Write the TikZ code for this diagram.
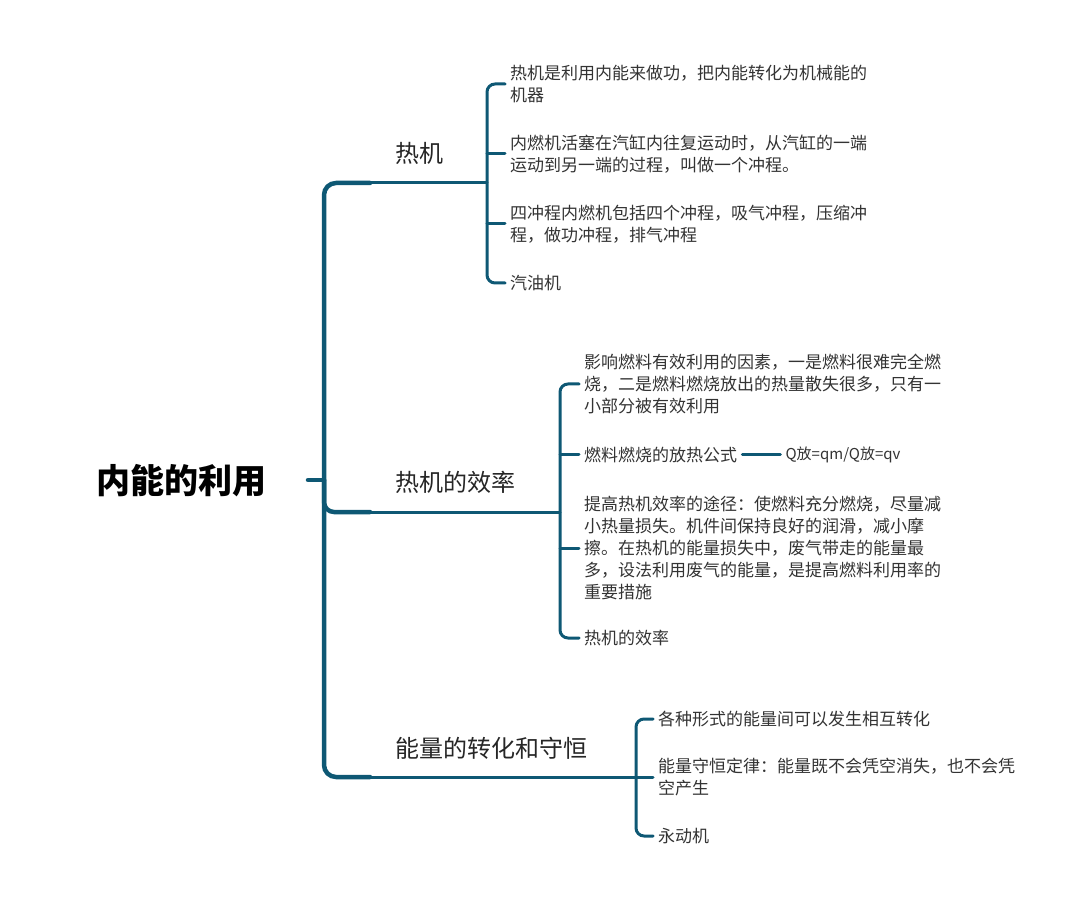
\documentclass[tikz,border=0pt]{standalone}
\usepackage{fontspec}
\newfontfamily\cjk{Noto Sans CJK SC}
\usetikzlibrary{positioning}
\definecolor{mapline}{RGB}{14,88,116}
\definecolor{leafgray}{RGB}{51,51,51}

\begin{document}
\begin{tikzpicture}[x=1pt,y=-1pt,
  root/.style={inner sep=2pt,font=\cjk\bfseries\fontsize{34}{40}\selectfont},
  topic/.style={anchor=west,inner sep=2pt,text=black!85,font=\cjk\fontsize{24}{28}\selectfont},
  leaf/.style={anchor=west,inner xsep=5pt,inner ysep=2pt,align=left,text=leafgray,font=\cjk\fontsize{17}{22}\selectfont},
  spine/.style={draw=mapline,line width=4.5pt,line cap=round},
  twig/.style={draw=mapline,line width=3pt,line cap=round}]

  \useasboundingbox (0,0) rectangle (1080,909);

  \node[root] (root) at (181,481) {内能的利用};

  \node[topic] (t1) at (393,153) {热机};
  \node[topic] (t2) at (393,482) {热机的效率};
  \node[topic] (t3) at (393,748) {能量的转化和守恒};

  \node[leaf] (l11) at (505,84) {热机是利用内能来做功，把内能转化为机械能的\\机器};
  \node[leaf] (l12) at (505,154) {内燃机活塞在汽缸内往复运动时，从汽缸的一端\\运动到另一端的过程，叫做一个冲程。};
  \node[leaf] (l13) at (505,224) {四冲程内燃机包括四个冲程，吸气冲程，压缩冲\\程，做功冲程，排气冲程};
  \node[leaf] (l14) at (505,283) {汽油机};

  \node[leaf] (l21) at (579,384) {影响燃料有效利用的因素，一是燃料很难完全燃\\烧，二是燃料燃烧放出的热量散失很多，只有一\\小部分被有效利用};
  \node[leaf] (l22) at (579,455) {燃料燃烧的放热公式};
  \node[leaf] (l23) at (579,548) {提高热机效率的途径：使燃料充分燃烧，尽量减\\小热量损失。机件间保持良好的润滑，减小摩\\擦。在热机的能量损失中，废气带走的能量最\\多，设法利用废气的能量，是提高燃料利用率的\\重要措施};
  \node[leaf] (l24) at (579,638) {热机的效率};
  \node[leaf,font=\cjk\fontsize{15}{18}\selectfont,right=38pt of l22] (f22) {Q放=qm/Q放=qv};

  \node[leaf] (l31) at (653,719) {各种形式的能量间可以发生相互转化};
  \node[leaf] (l32) at (653,777) {能量守恒定律：能量既不会凭空消失，也不会凭\\空产生};
  \node[leaf] (l33) at (653,836) {永动机};

  \coordinate (stub) at (308,480);
  \coordinate (hub) at (324,480);
  \coordinate (k1) at (370,183);
  \coordinate (k2) at (370,512);
  \coordinate (k3) at (370,777);
  \coordinate (j1) at (487,183);
  \coordinate (j2) at (560,512);
  \coordinate (j3) at (636,777);

  % main spine
  \draw[spine] (stub) -- (hub);
  \draw[spine,rounded corners=12pt] (k1) -| (hub) |- (k3);
  \draw[spine,rounded corners=10pt] (hub) |- (k2);
  \draw[twig] (k1) -- (j1);
  \draw[twig] (k2) -- (j2);
  \draw[twig] (k3) -- (j3);

  % brackets
  \draw[twig,rounded corners=8pt] (l11.west) -| (j1) |- (l14.west);
  \draw[twig] (j1 |- l12.west) -- (l12.west);
  \draw[twig] (j1 |- l13.west) -- (l13.west);

  \draw[twig,rounded corners=8pt] (l21.west) -| (j2) |- (l24.west);
  \draw[twig] (j2 |- l22.west) -- (l22.west);
  \draw[twig] (j2 |- l23.west) -- (l23.west);
  \draw[twig] (l22) -- (f22);

  \draw[twig,rounded corners=8pt] (l31.west) -| (j3) |- (l33.west);
  \draw[twig] (j3 |- l32.west) -- (l32.west);

\end{tikzpicture}
\end{document}
